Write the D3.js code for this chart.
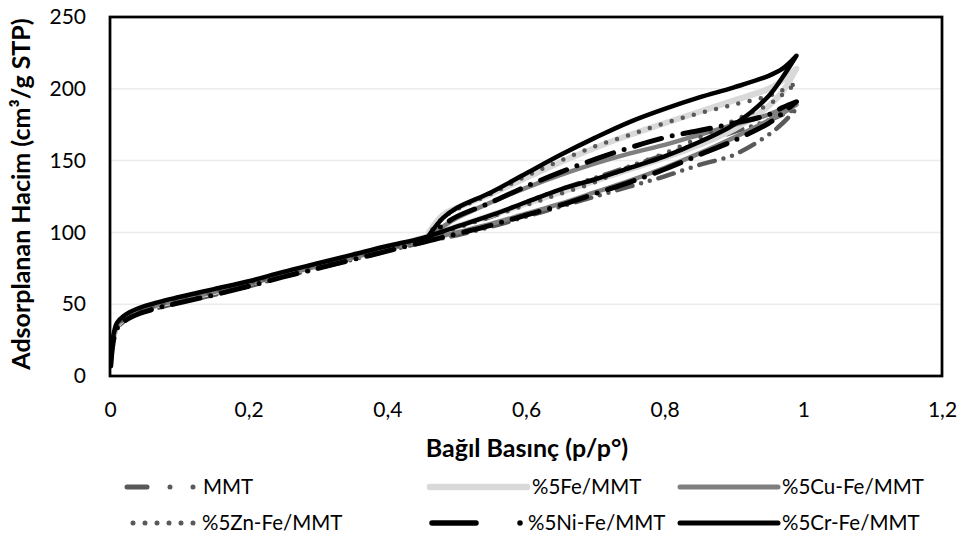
<!DOCTYPE html>
<html><head><meta charset="utf-8">
<script src="https://cdn.jsdelivr.net/npm/d3@7"></script>
<style>body{margin:0;background:#fff}svg{display:block}text{font-family:Lato,"Open Sans",sans-serif;fill:#000}</style>
</head><body>
<svg id="c" width="965" height="543"></svg>
<script>
// Data
const xTicks = [0, 0.2, 0.4, 0.6, 0.8, 1, 1.2];
const yTicks = [0, 50, 100, 150, 200, 250];
const pAds = [0.001,0.003,0.006,0.01,0.02,0.04,0.07,0.1,0.15,0.2,0.25,0.3,0.35,0.4,0.45,0.5,0.55,0.6,0.65,0.7,0.75,0.8,0.85,0.9,0.95,0.97,0.99];
const pDes = [0.99,0.97,0.95,0.9,0.85,0.8,0.75,0.7,0.65,0.6,0.55,0.5,0.48,0.46];
const seriesNames = ["MMT","%5Fe/MMT","%5Cu-Fe/MMT","%5Zn-Fe/MMT","%5Ni-Fe/MMT","%5Cr-Fe/MMT"];
const mmtAds = [7,18,27,33,38,43,47.5,51,56.5,62.5,69,75,81,87,93,98,104,111,118,125,132,139,147,154,168,176,186];
const mmtDes = [186,182,178,170,162,154,146,138,130,121,111,104,100,96];
const feAds  = [8,20,29,35,40,45,49.5,53,58.5,64.5,71,77,83,89,96,104,112,120,128,136,144,152,161,172,188,198,214];
const feDes  = [214,206,200,192,184,176,168,159,149,138,127,117,112,100];
const cuAds  = [8,20,29,35,40,45,49.5,53,58.5,64,70.5,76.5,82.5,88.5,94,100,106,113,120,128,136,145,155,166,178,183,189];
const cuDes  = [189,186,182,175,168,161,155,148,140,131,121,110,104,97];
const znAds  = [8,20,29,35,40,45,49.5,53,58.5,64.5,71,77,83,89,95,103,111,119,127,135,146,155,166,178,189,196,204];
const znDes  = [204,199,195,189,183,176,168,160,150,139,127,116,110,99];
const niAds  = [7,18,27,33,38,43,47.5,51,56.5,62.5,69,75,81,87,93,99,105,112,119,127,135,144,154,164,176,183,191];
const niDes  = [191,187,182,176,171,166,159,151,142,132,121,111,105,97];
const crAds  = [9,22,31,37,42,47,51.5,55,60.5,66,72.5,78.5,84.5,90.5,96,104,112,121,130,137,145,153,163,175,195,208,223];
const crDes  = [223,214,209,201,194,186,177,166,154,141,128,117,110,98];

const adsList = [mmtAds, feAds, cuAds, znAds, niAds, crAds];
const desList = [mmtDes, feDes, cuDes, znDes, niDes, crDes];
const styles = [
  {color:"#595959", width:4.5, dash:"16 9 0 9 0 9", legDash:"20 23 0 23 0 40"},
  {color:"#d9d9d9", width:6, dash:null, legDash:null},
  {color:"#7f7f7f", width:4.5, dash:null, legDash:null},
  {color:"#595959", width:4.5, dash:"0 11.5", legDash:"0 12"},
  {color:"#000000", width:5, dash:"28 11 0 11", legDash:"44 44 0 40"},
  {color:"#000000", width:4.5, dash:null, legDash:null}
];

const svg = d3.select("#c");
const x = d3.scaleLinear().domain([0,1.2]).range([110,942]);
const y = d3.scaleLinear().domain([0,250]).range([376,17]);

// gridlines
svg.append("g").selectAll("line").data(yTicks.filter(v=>v>0 && v<250)).join("line")
  .attr("x1",x(0)).attr("x2",x(1.2)).attr("y1",d=>y(d)).attr("y2",d=>y(d))
  .attr("stroke","#ebebeb").attr("stroke-width",1.5);

// series
const line = d3.line().x(d=>x(d[0])).y(d=>y(d[1])).curve(d3.curveCatmullRom.alpha(0.5));
svg.append("clipPath").attr("id","pc").append("rect")
  .attr("x",x(0)).attr("y",y(250)).attr("width",x(1.2)-x(0)).attr("height",y(0)-y(250));
seriesNames.forEach((n,i)=>{
  const pts = pAds.map((p,j)=>[p, adsList[i][j]]).concat(pDes.map((p,j)=>[p, desList[i][j]]));
  const s = styles[i];
  svg.append("path").attr("d", line(pts)).attr("fill","none")
    .attr("stroke", s.color).attr("stroke-width", s.width)
    .attr("stroke-linecap","round").attr("stroke-linejoin","round")
    .attr("stroke-dasharray", s.dash).attr("clip-path","url(#pc)");
});

// frame
svg.append("rect").attr("x",x(0)).attr("y",y(250)).attr("width",x(1.2)-x(0)).attr("height",y(0)-y(250))
  .attr("fill","none").attr("stroke","#000").attr("stroke-width",2.75);

// axes
const fmt = d => String(d).replace(".", ",");
const xAxis = svg.append("g").attr("transform",`translate(0,${y(0)})`)
  .call(d3.axisBottom(x).tickValues(xTicks).tickFormat(fmt).tickSize(0).tickPadding(26));
xAxis.select(".domain").remove();
xAxis.selectAll("text").style("font-size","21px").style("font-family","Lato");
const yAxis = svg.append("g").attr("transform",`translate(${x(0)},0)`)
  .call(d3.axisLeft(y).tickValues(yTicks).tickSize(0).tickPadding(24));
yAxis.select(".domain").remove();
yAxis.selectAll("text").style("font-size","21px").style("font-family","Lato");

// titles
svg.append("text").attr("x",527).attr("y",457).attr("text-anchor","middle")
  .style("font-size","25px").style("font-weight","bold").text("Bağıl Basınç (p/p°)");
svg.append("text").attr("transform","translate(30,194) rotate(-90)").attr("text-anchor","middle")
  .style("font-size","25px").style("font-weight","bold").text("Adsorplanan Hacim (cm³/g STP)");

// legend
const legPos = [
  {x0:127,x1:197,tx:203,y:487},{x0:430,x1:527,tx:532,y:487},{x0:680,x1:778,tx:782,y:487},
  {x0:133,x1:197,tx:202,y:523},{x0:432,x1:525,tx:528,y:523},{x0:680,x1:778,tx:782,y:523}
];
seriesNames.forEach((n,i)=>{
  const s = styles[i], L = legPos[i];
  svg.append("line").attr("x1",L.x0).attr("x2",L.x1).attr("y1",L.y).attr("y2",L.y)
    .attr("stroke",s.color).attr("stroke-width",s.width+0.5).attr("stroke-linecap","round")
    .attr("stroke-dasharray",s.legDash);
  svg.append("text").attr("x",L.tx).attr("y",L.y+7).style("font-size","20.5px").text(n);
});
</script>
</body></html>
